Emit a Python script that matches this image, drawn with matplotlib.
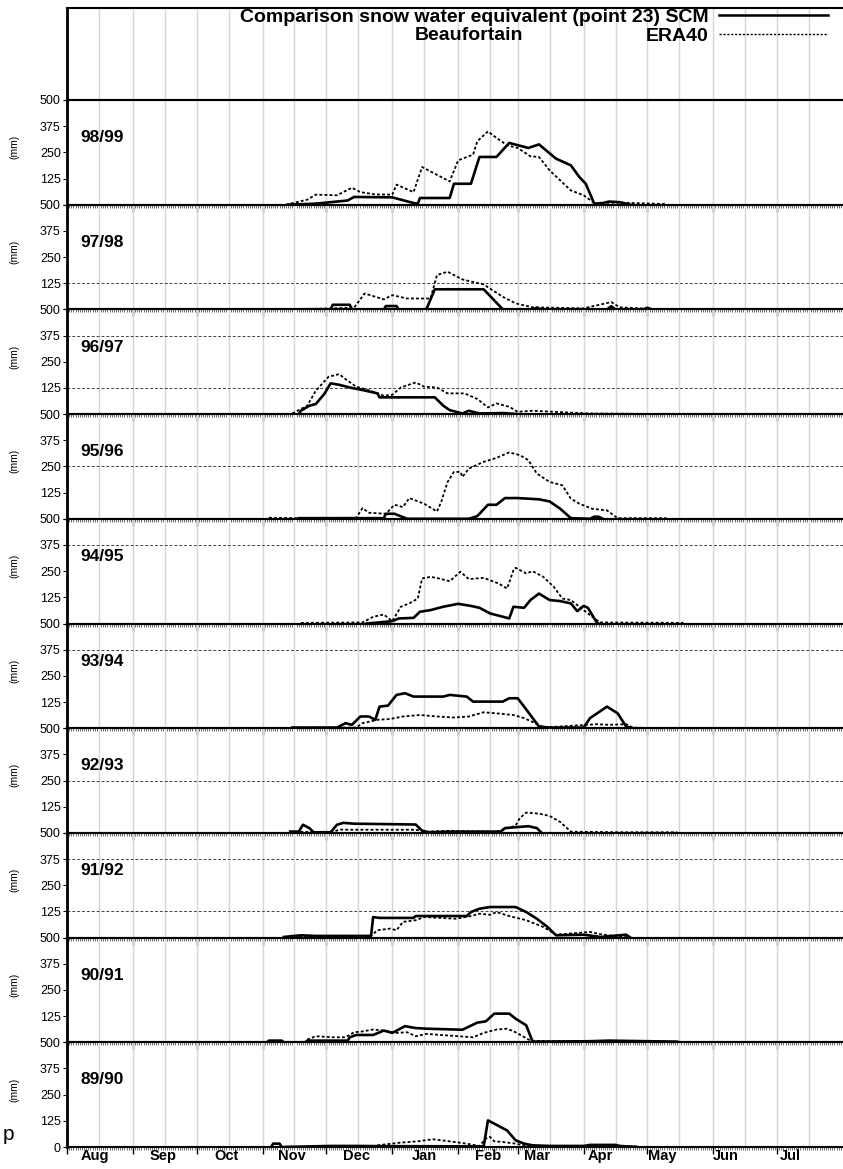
import matplotlib
matplotlib.use('Agg')
import matplotlib.pyplot as plt
from matplotlib.lines import Line2D

plt.rcParams['font.family'] = ['Liberation Sans', 'DejaVu Sans']

# winters, top to bottom
seasons = ['98/99', '97/98', '96/97', '95/96', '94/95',
           '93/94', '92/93', '91/92', '90/91', '89/90']

months = ['Aug', 'Sep', 'Oct', 'Nov', 'Dec', 'Jan',
          'Feb', 'Mar', 'Apr', 'May', 'Jun', 'Jul']
month_start = [0, 31, 61, 92, 122, 153, 184, 212, 243, 273, 304, 334]
month_label_day = [13, 45, 75, 106, 136, 168, 198, 221, 251, 280, 310, 340]

# x = days since 1 August, y = snow water equivalent (mm)
scm_days_9899 = [104, 117, 132, 135, 153, 163, 165, 166, 180, 182, 190, 194, 202,
                 208, 217, 222, 230, 237, 241, 244, 248, 252, 255, 260, 265]
scm_swe_9899 = [0, 5, 20, 37, 35, 8, 5, 32, 32, 100, 100, 228, 228,
                295, 271, 288, 220, 188, 132, 100, 5, 8, 15, 12, 0]
era_days_9899 = [103, 113, 117, 127, 134, 138, 145, 153, 155, 163, 167, 180, 184, 191,
                 193, 198, 202, 207, 212, 218, 222, 227, 232, 237, 243, 248, 260, 282]
era_swe_9899 = [0, 24, 48, 45, 81, 60, 49, 48, 96, 60, 180, 111, 212, 239,
                303, 350, 319, 284, 271, 231, 228, 164, 116, 68, 45, 8, 10, 3]

scm_days_9798 = [104, 124, 125, 133, 134, 149, 150, 155, 156, 169, 173, 196, 205,
                 219, 221, 223, 254, 256, 258, 271, 273, 275]
scm_swe_9798 = [0, 0, 22, 22, 0, 0, 16, 16, 0, 0, 96, 96, 0,
                0, 8, 0, 0, 15, 0, 0, 8, 0]
era_days_9798 = [102, 125, 135, 140, 149, 153, 160, 171, 174, 179, 186, 196, 205,
                 211, 219, 243, 256, 260, 279]
era_swe_9798 = [0, 5, 8, 76, 48, 68, 52, 52, 164, 180, 143, 119, 60,
                29, 10, 5, 35, 10, 0]

scm_days_9697 = [109, 110, 114, 117, 121, 124, 128, 133, 139, 146, 147, 157, 173,
                 177, 180, 186, 189, 194, 205, 212]
scm_swe_9697 = [0, 16, 40, 48, 96, 147, 140, 127, 115, 99, 80, 80, 80,
                40, 19, 3, 16, 3, 5, 0]
era_days_9697 = [106, 113, 117, 123, 128, 131, 136, 143, 149, 153, 157, 164, 168,
                 174, 179, 187, 193, 198, 202, 208, 212, 219, 235, 246, 284]
era_swe_9697 = [3, 40, 111, 178, 191, 167, 131, 111, 88, 92, 127, 151, 131,
                127, 99, 99, 72, 32, 51, 35, 11, 16, 8, 3, 0]

scm_days_9596 = [109, 149, 150, 154, 160, 189, 193, 198, 202, 206, 212, 222, 227,
                 232, 237, 246, 248, 250, 252]
scm_swe_9596 = [3, 3, 24, 24, 0, 0, 13, 67, 67, 99, 99, 93, 83,
                48, 3, 0, 10, 10, 0]
era_days_9596 = [95, 109, 136, 139, 142, 150, 154, 158, 161, 168, 174, 176, 179, 182,
                 185, 186, 189, 196, 202, 208, 213, 217, 221, 227, 233, 237, 241,
                 247, 254, 259, 282]
era_swe_9596 = [5, 3, 5, 51, 29, 24, 67, 56, 99, 72, 35, 80, 176, 224,
                224, 200, 240, 272, 291, 317, 304, 280, 216, 176, 160, 96, 72,
                48, 40, 3, 3]

scm_days_9495 = [141, 153, 156, 163, 166, 171, 177, 184, 190, 194, 199, 204, 208,
                 210, 215, 218, 222, 227, 232, 237, 240, 243, 245, 249, 250]
scm_swe_9495 = [0, 11, 24, 27, 56, 64, 80, 94, 84, 75, 48, 35, 24,
                80, 75, 112, 143, 112, 107, 96, 59, 84, 75, 8, 0]
era_days_9495 = [110, 139, 144, 149, 153, 157, 161, 165, 167, 171, 175, 180, 185, 189,
                 196, 203, 207, 210, 211, 216, 219, 224, 229, 233, 237, 243, 248,
                 251, 290]
era_swe_9495 = [3, 5, 32, 43, 11, 80, 96, 119, 215, 223, 215, 202, 247, 212,
                218, 191, 167, 255, 266, 239, 250, 223, 175, 119, 112, 64, 24,
                5, 3]

scm_days_9394 = [106, 127, 131, 134, 138, 142, 145, 147, 151, 155, 159, 163, 177, 180,
                 188, 191, 205, 208, 212, 215, 222, 227, 243, 246, 254, 259, 263, 266]
scm_swe_9394 = [3, 3, 24, 16, 56, 56, 40, 103, 108, 159, 167, 151, 151, 159,
                151, 127, 127, 143, 143, 103, 8, 3, 3, 48, 103, 71, 8, 0]
era_days_9394 = [106, 136, 139, 146, 152, 158, 166, 174, 182, 189, 196, 202, 210,
                 215, 222, 224, 249, 255, 263, 266, 277]
era_swe_9394 = [3, 3, 24, 40, 44, 56, 63, 56, 51, 56, 76, 71, 63,
                48, 16, 3, 19, 16, 19, 3, 0]

scm_days_9293 = [105, 109, 111, 114, 116, 124, 127, 130, 135, 164, 167, 170, 180,
                 204, 206, 211, 217, 221, 223]
scm_swe_9293 = [6, 6, 39, 23, 3, 3, 39, 48, 44, 40, 11, 3, 6,
                6, 23, 27, 32, 23, 3]
era_days_9293 = [105, 125, 128, 133, 164, 169, 180, 202, 211, 213, 216, 222, 227,
                 232, 237, 259, 287]
era_swe_9293 = [6, 3, 16, 15, 15, 6, 10, 6, 35, 71, 97, 92, 81,
                52, 6, 3, 3]

scm_days_9192 = [102, 110, 117, 143, 144, 147, 163, 164, 188, 190, 194, 199, 211,
                 216, 221, 226, 230, 243, 251, 263, 265]
scm_swe_9192 = [3, 11, 8, 8, 98, 94, 94, 103, 103, 122, 138, 146, 146,
                122, 90, 51, 11, 14, 3, 14, 0]
era_days_9192 = [102, 143, 146, 152, 155, 158, 164, 168, 183, 190, 194, 199, 202,
                 208, 216, 224, 230, 246, 252, 265]
era_swe_9192 = [3, 8, 35, 43, 35, 75, 83, 98, 90, 103, 114, 109, 122,
                103, 83, 51, 14, 27, 14, 0]

scm_days_9091 = [94, 95, 101, 102, 112, 113, 132, 133, 136, 144, 149, 153, 159,
                 164, 169, 186, 193, 197, 201, 208, 211, 216, 219, 245, 255, 287]
scm_swe_9091 = [0, 8, 8, 0, 0, 8, 8, 24, 35, 35, 56, 45, 77,
                68, 65, 60, 94, 100, 137, 137, 113, 81, 3, 5, 8, 3]
era_days_9091 = [113, 117, 125, 131, 135, 139, 144, 149, 155, 160, 164, 169, 180,
                 191, 196, 202, 207, 211, 218, 227, 287]
era_swe_9091 = [13, 29, 24, 24, 48, 52, 61, 56, 45, 48, 29, 40, 32,
                24, 45, 61, 65, 48, 8, 5, 3]

scm_days_8990 = [96, 97, 100, 101, 124, 136, 149, 194, 196, 198, 202, 207, 211,
                 215, 219, 227, 243, 246, 258, 260, 268]
scm_swe_8990 = [0, 16, 16, 0, 5, 5, 4, 3, 3, 127, 106, 79, 32,
                16, 8, 5, 5, 10, 10, 5, 0]
era_days_8990 = [146, 157, 165, 172, 180, 188, 194, 197, 199, 201, 205, 211, 216,
                 227, 268]
era_swe_8990 = [8, 21, 27, 37, 27, 16, 5, 40, 48, 27, 24, 16, 5,
                5, 3]

scm_days = [scm_days_9899, scm_days_9798, scm_days_9697, scm_days_9596, scm_days_9495,
            scm_days_9394, scm_days_9293, scm_days_9192, scm_days_9091, scm_days_8990]
scm_swe = [scm_swe_9899, scm_swe_9798, scm_swe_9697, scm_swe_9596, scm_swe_9495,
           scm_swe_9394, scm_swe_9293, scm_swe_9192, scm_swe_9091, scm_swe_8990]
era_days = [era_days_9899, era_days_9798, era_days_9697, era_days_9596, era_days_9495,
            era_days_9394, era_days_9293, era_days_9192, era_days_9091, era_days_8990]
era_swe = [era_swe_9899, era_swe_9798, era_swe_9697, era_swe_9596, era_swe_9495,
           era_swe_9394, era_swe_9293, era_swe_9192, era_swe_9091, era_swe_8990]

# leftover dashed reference lines from the scan
ref_levels = [[], [125], [375, 125], [250], [375], [375], [250], [375, 125], [], []]

grid_days = month_start + [d + 15 for d in month_start]

W, H = 843, 1169
fig = plt.figure(figsize=(W / 100, H / 100), dpi=100)

left = 67 / W
width = 1.0 - left
head_top, panels_top, panels_bot = 8, 100, 1147
ph = (panels_bot - panels_top) / len(seasons)

dotted = (0, (1.6, 1.2))


def style_axes(ax):
    ax.set_xlim(0, 365)
    ax.patch.set_alpha(0)
    ax.spines['right'].set_visible(False)
    for s in ['top', 'bottom']:
        ax.spines[s].set_linewidth(1.5)
    ax.spines['left'].set_linewidth(2.0)
    ax.vlines(grid_days, 0, 1, transform=ax.get_xaxis_transform(),
              color='#d6d6d6', lw=1.0, zorder=0)


# header with the legend
hax = fig.add_axes([left, 1 - panels_top / H, width, (panels_top - head_top) / H])
style_axes(hax)
hax.set_xticks([])
hax.set_yticks([])
handles = [Line2D([], [], color='k', lw=1.8),
           Line2D([], [], color='k', lw=1.0, linestyle=dotted)]
leg = hax.legend(handles, ['Comparison snow water equivalent (point 23) SCM', 'ERA40'],
                 loc='upper right', bbox_to_anchor=(0.981, 0.995), frameon=False,
                 markerfirst=False, handlelength=5.6, handletextpad=0.55,
                 labelspacing=0.05, borderpad=0, borderaxespad=0,
                 prop={'weight': 'bold', 'size': 14})
hax.text(0.518, 0.705, 'Beaufortain', transform=hax.transAxes, ha='center',
         va='center', fontsize=14, fontweight='bold')

for i, season in enumerate(seasons):
    bottom = 1 - (panels_top + (i + 1) * ph) / H
    ax = fig.add_axes([left, bottom, width, ph / H])
    style_axes(ax)
    ax.set_ylim(0, 500)
    for lev in ref_levels[i]:
        ax.axhline(lev, color='#444444', lw=0.7, dashes=(3, 2), zorder=1)
    ax.plot(era_days[i], era_swe[i], color='k', lw=1.3, linestyle=dotted, zorder=3)
    ax.plot(scm_days[i], scm_swe[i], color='k', lw=1.9, zorder=4)

    ax.set_yticks([0, 125, 250, 375, 500])
    last = i == len(seasons) - 1
    ax.set_yticklabels(['0' if last else '', '125', '250', '375', '500'])
    ax.tick_params(axis='y', direction='out', length=3, width=0.8, pad=1.5,
                   labelsize=9)
    ax.set_xticks(month_start)
    ax.set_xticks(range(0, 366), minor=True)
    ax.tick_params(axis='x', which='major', direction='out', length=5, width=1.0,
                   labelbottom=False)
    ax.tick_params(axis='x', which='minor', direction='out', length=2, width=0.5,
                   color='#333333')
    ax.text(0.017, 0.64, season, transform=ax.transAxes, fontsize=12.5,
            fontweight='bold', va='center')
    ax.text(-0.068, 0.55, '(mm)', transform=ax.transAxes, rotation=90, fontsize=7.5,
            ha='center', va='center')
    if last:
        sec = ax.secondary_xaxis('bottom')
        sec.set_xticks(month_label_day, labels=months)
        sec.tick_params(length=0, pad=1.5, labelsize=10.5)
        for lab in sec.get_xticklabels():
            lab.set_fontweight('bold')
        sec.spines['bottom'].set_visible(False)

fig.text(3 / W, 1 - 1135 / H, 'p', fontsize=15, va='center')

fig.savefig('out.png', dpi=100)
